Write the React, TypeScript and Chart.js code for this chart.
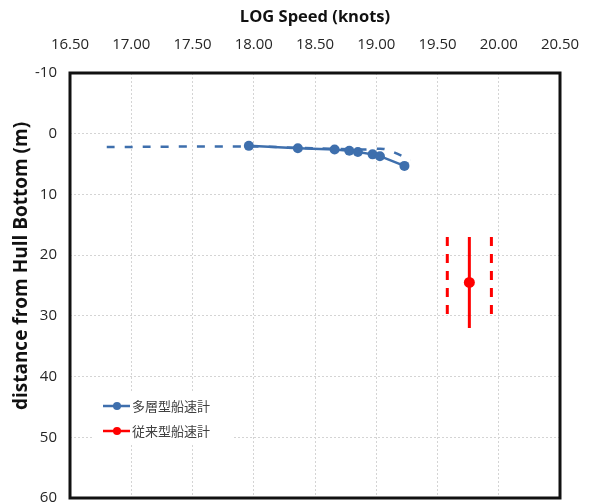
import React, { useEffect, useRef } from 'react';
import { Chart, registerables } from 'chart.js';

Chart.register(...registerables);

// Multi-layer log: speed (knots) vs. depth below hull bottom (m)
const multiSpeed = [17.96, 18.36, 18.66, 18.78, 18.85, 18.97, 19.03, 19.23];
const multiDepth = [2.0, 2.4, 2.6, 2.8, 3.0, 3.4, 3.7, 5.3];

// Dashed reference profile for the multi-layer log
const trendSpeed = [16.8, 17.96, 18.5, 18.9, 19.06, 19.15, 19.28];
const trendDepth = [2.2, 2.1, 2.4, 2.6, 2.5, 3.1, 4.3];

// Conventional log: single reading with its depth range and speed band
const convSpeed = [19.76];
const convDepth = [24.5];
const convDepthRange = [17, 32];
const convBandSpeed = [19.58, 19.94];
const convBandDepth = [17, 31];

const legendLabels = ['多層型船速計', '従来型船速計'];
const xTitle = 'LOG Speed (knots)';
const yTitle = 'distance from Hull Bottom (m)';

const BLUE = '#3e6fad';
const RED = '#ff0000';
const TEXT = '#262626';

const framePlugin = {
  id: 'frameAndExtras',
  afterDraw(chart: any) {
    const { ctx, chartArea } = chart;
    const { left, top, right, bottom } = chartArea;
    ctx.save();

    // legend box
    const lx = left + 22;
    const ly = top + 320;
    ctx.fillStyle = '#ffffff';
    ctx.fillRect(lx, ly, 142, 52);
    const colors = [BLUE, RED];
    legendLabels.forEach((label, i) => {
      const y = top + 333 + i * 25;
      ctx.strokeStyle = colors[i];
      ctx.lineWidth = 2.5;
      ctx.beginPath();
      ctx.moveTo(left + 33, y);
      ctx.lineTo(left + 60, y);
      ctx.stroke();
      ctx.fillStyle = colors[i];
      ctx.beginPath();
      ctx.arc(left + 47, y, 4, 0, Math.PI * 2);
      ctx.fill();
      ctx.fillStyle = '#404040';
      ctx.font = '13px "Noto Sans CJK JP"';
      ctx.textAlign = 'left';
      ctx.textBaseline = 'middle';
      ctx.fillText(label, left + 62, y);
    });

    // plot frame
    ctx.strokeStyle = '#111111';
    ctx.lineWidth = 3;
    ctx.strokeRect(left, top, right - left, bottom - top);

    // vertical axis title
    ctx.translate(22, 266);
    ctx.rotate(-Math.PI / 2);
    ctx.fillStyle = '#111111';
    ctx.font = 'bold 19px "Open Sans"';
    ctx.textAlign = 'center';
    ctx.textBaseline = 'middle';
    ctx.fillText(yTitle, 0, 0);
    ctx.restore();
  },
};

// keep the plot edges fixed regardless of how far edge tick labels overhang
const noOverhang = (scale: any) => {
  scale.paddingLeft = 0;
  scale.paddingRight = 0;
  scale.paddingTop = 0;
  scale.paddingBottom = 0;
};

export default function App() {
  const canvasRef = useRef<HTMLCanvasElement | null>(null);

  useEffect(() => {
    const canvas = canvasRef.current;
    if (!canvas) return;

    const pts = (xs: number[], ys: number[]) => xs.map((x, i) => ({ x, y: ys[i] }));

    const chart = new Chart(canvas, {
      type: 'scatter',
      data: {
        datasets: [
          {
            label: 'trend',
            data: pts(trendSpeed, trendDepth),
            showLine: true,
            borderColor: BLUE,
            borderWidth: 2.5,
            borderDash: [8, 10],
            pointRadius: 0,
            tension: 0.3,
          },
          {
            label: legendLabels[0],
            data: pts(multiSpeed, multiDepth),
            showLine: true,
            borderColor: BLUE,
            backgroundColor: BLUE,
            borderWidth: 2.5,
            pointRadius: 5,
            pointBorderWidth: 0,
          },
          {
            label: 'range',
            data: convDepthRange.map((d) => ({ x: convSpeed[0], y: d })),
            showLine: true,
            borderColor: RED,
            borderWidth: 3,
            pointRadius: 0,
          },
          ...convBandSpeed.map((s) => ({
            label: 'band',
            data: convBandDepth.map((d) => ({ x: s, y: d })),
            showLine: true,
            borderColor: RED,
            borderWidth: 3,
            borderDash: [9, 8],
            pointRadius: 0,
          })),
          {
            label: legendLabels[1],
            data: pts(convSpeed, convDepth),
            borderColor: RED,
            backgroundColor: RED,
            pointRadius: 5.5,
            pointBorderWidth: 0,
          },
        ],
      },
      options: {
        animation: false,
        responsive: true,
        maintainAspectRatio: false,
        layout: { padding: { left: 0, right: 29, top: 0, bottom: 6 } },
        plugins: {
          legend: { display: false },
          tooltip: { enabled: false },
        },
        scales: {
          x: {
            type: 'linear',
            position: 'top',
            min: 16.5,
            max: 20.5,
            afterFit: (scale: any) => {
              scale.height = 73;
              noOverhang(scale);
            },
            ticks: {
              stepSize: 0.5,
              padding: 19,
              color: TEXT,
              font: { family: '"Open Sans"', size: 15 },
              callback: (v: any) => Number(v).toFixed(2),
            },
            grid: { color: '#d4d4d4', drawTicks: false, lineWidth: 1 },
            border: { display: false, dash: [2, 2] },
            title: {
              display: true,
              text: xTitle,
              color: '#111111',
              font: { family: '"Open Sans"', size: 16.5, weight: 'bold' },
              padding: { top: 7, bottom: 0 },
            },
          },
          y: {
            type: 'linear',
            reverse: true,
            min: -10,
            max: 60,
            afterFit: (scale: any) => {
              scale.width = 70;
              noOverhang(scale);
            },
            ticks: {
              stepSize: 10,
              padding: 13,
              color: TEXT,
              font: { family: '"Open Sans"', size: 15 },
            },
            grid: { color: '#d4d4d4', drawTicks: false, lineWidth: 1 },
            border: { display: false, dash: [2, 2] },
          },
        },
      },
      plugins: [framePlugin],
    });

    return () => chart.destroy();
  }, []);

  return (
    <div style={{ position: 'fixed', left: 0, top: 0, width: 589, height: 504, background: '#fff' }}>
      <canvas ref={canvasRef} />
    </div>
  );
}
